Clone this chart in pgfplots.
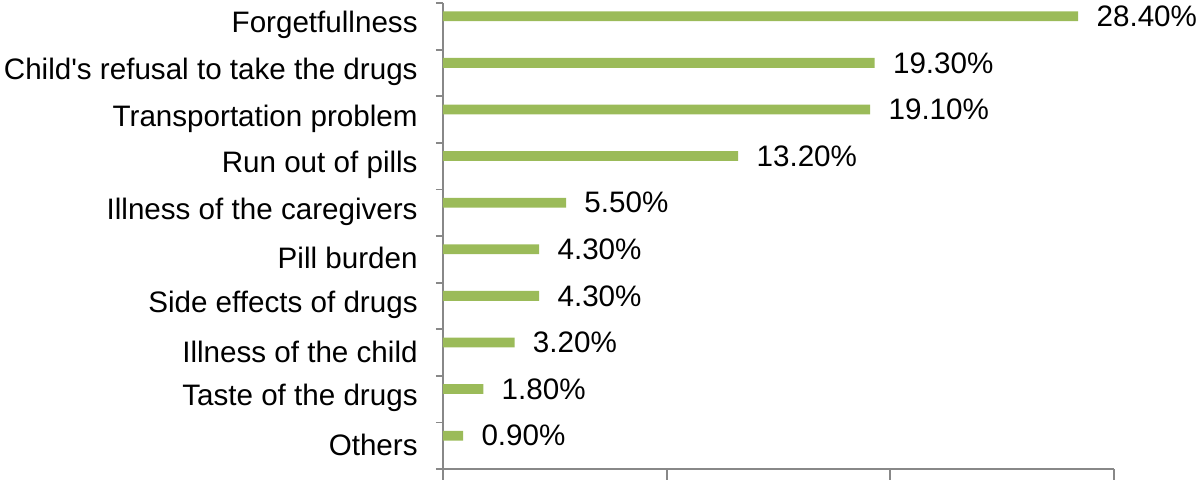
\documentclass[border=0pt]{standalone}
\usepackage{pgfplots}
\pgfplotsset{compat=1.18}
\usepackage{fontspec}
\setmainfont{Liberation Sans}[Ligatures=TeXOff]
\definecolor{bargreen}{HTML}{9BBB59}
\definecolor{axgray}{HTML}{888888}
\begin{document}
\begin{tikzpicture}
\begin{axis}[
  at={(0,0)}, anchor=south west,
  scale only axis, width=335.5pt, height=233pt,
  xmin=0, xmax=30, ymin=-0.5, ymax=9.5,
  axis x line*=bottom, axis y line*=left,
  axis line style={axgray, line width=0.9pt},
  every tick/.style={axgray, line width=0.9pt},
  tick align=outside,
  xtick=\empty,
  extra x ticks={0,10,20,30}, extra x tick labels={},
  extra x tick style={major tick length=6pt},
  ytick={-0.5,0.5,...,9.5}, yticklabels={}, major tick length=3.5pt,
  extra y ticks={0,1,2,3,4,5,6,7,8,9},
  extra y tick labels={Others,Taste of the drugs,Illness of the child,Side effects of drugs,Pill burden,Illness of the caregivers,Run out of pills,Transportation problem,Child's refusal to take the drugs,Forgetfullness},
  extra y tick style={major tick length=0pt, yticklabel style={anchor=east, inner sep=0pt, xshift=-12.5pt, yshift=0.5pt}},
  tick label style={font=\fontsize{14.8}{17.5}\selectfont, black},
  /pgf/number format/assume math mode=true,
]
\addplot[xbar, bar width=0.21, bar shift=0pt, fill=bargreen, draw=none,
  point meta=x,
  nodes near coords={\pgfmathprintnumber[fixed,fixed zerofill,precision=2]{\pgfplotspointmeta}\%},
  nodes near coords style={anchor=west, inner sep=0pt, xshift=9pt, font=\fontsize{14.8}{17.5}\selectfont, black}]
coordinates {
(0.9,0.215) (1.8,1.215) (3.2,2.215) (4.3,3.215) (4.3,4.215)
(5.5,5.215) (13.2,6.215) (19.1,7.215) (19.3,8.215) (28.4,9.215)
};
\end{axis}
\pgfresetboundingbox
\path[use as bounding box] (-221.5pt,-5pt) rectangle (378.5pt,234.5pt);
\end{tikzpicture}
\end{document}
